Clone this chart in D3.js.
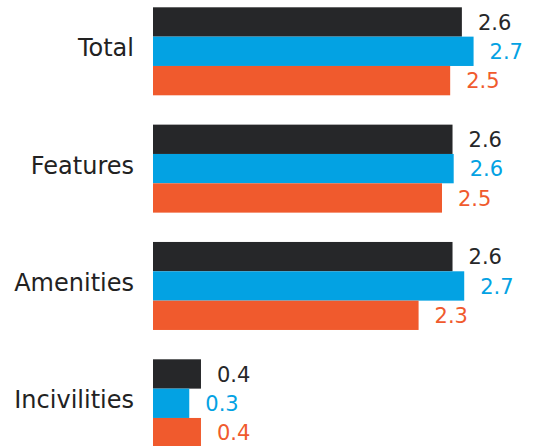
<!DOCTYPE html>
<html>
<head>
<meta charset="utf-8">
<script src="https://cdn.jsdelivr.net/npm/d3@7"></script>
<style>
  body { margin: 0; background: #fff; }
  svg { display: block; font-family: "DejaVu Sans", sans-serif; }
</style>
</head>
<body>
<svg width="533" height="446"></svg>
<script>
const categories = ["Total", "Features", "Amenities", "Incivilities"];
const seriesNames = ["Series A", "Series B", "Series C"];
const seriesA = [2.64, 2.56, 2.56, 0.41];
const seriesB = [2.74, 2.57, 2.66, 0.31];
const seriesC = [2.54, 2.47, 2.27, 0.41];
const seriesColors = ["#262729", "#03a2e3", "#f05a2d"];

const values = [seriesA, seriesB, seriesC];

const svg = d3.select("svg");
const format = d3.format(".1f");

const y = d3.scaleBand()
    .domain(categories)
    .range([7.3, 447.3])
    .paddingInner(0.25);

const yInner = d3.scaleBand()
    .domain(seriesNames)
    .range([0, y.bandwidth()]);

const x = d3.scaleLinear()
    .domain([0, 3])
    .range([153, 504]);

const rows = categories.map((c, i) => ({
    name: c,
    items: seriesNames.map((s, j) => ({ series: s, value: values[j][i], color: seriesColors[j] }))
}));

const group = svg.selectAll("g.cat")
    .data(rows)
    .join("g")
    .attr("class", "cat")
    .attr("transform", d => `translate(0,${y(d.name)})`);

group.selectAll("rect")
    .data(d => d.items)
    .join("rect")
    .attr("x", x(0))
    .attr("y", d => yInner(d.series))
    .attr("width", d => x(d.value) - x(0))
    .attr("height", yInner.bandwidth())
    .attr("fill", d => d.color);

group.selectAll("text.val")
    .data(d => d.items)
    .join("text")
    .attr("class", "val")
    .attr("x", d => x(d.value) + 16)
    .attr("y", d => yInner(d.series) + yInner.bandwidth() / 2)
    .attr("dy", "0.37em")
    .attr("font-size", 21)
    .attr("fill", d => d.color)
    .text(d => format(d.value));

// category labels
group.append("text")
    .attr("x", x(0) - 19)
    .attr("y", y.bandwidth() / 2 + 5)
    .attr("text-anchor", "end")
    .attr("font-size", 24)
    .attr("fill", "#222")
    .text(d => d.name);
</script>
</body>
</html>
